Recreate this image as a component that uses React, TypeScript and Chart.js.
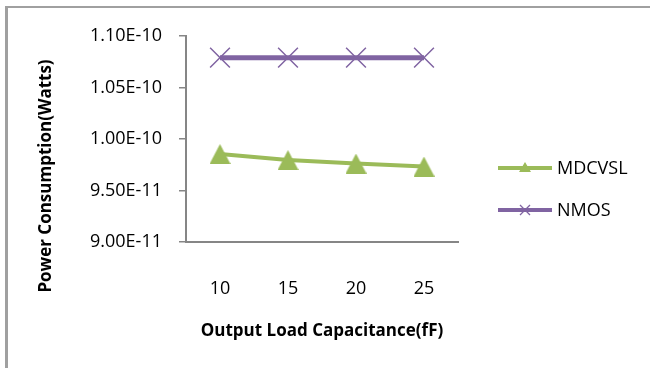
import React, { useEffect, useRef } from 'react';
import { Chart, registerables } from 'chart.js';

Chart.register(...registerables);

const categories = ['10', '15', '20', '25'];
const seriesNames = ['MDCVSL', 'NMOS'];
const mdcvslValues = [9.854e-11, 9.795e-11, 9.762e-11, 9.733e-11];
const nmosValues = [1.079e-10, 1.079e-10, 1.079e-10, 1.079e-10];
const yTickValues = [9.0e-11, 9.5e-11, 1.0e-10, 1.05e-10, 1.1e-10];
const xTitle = 'Output Load Capacitance(fF)';
const yTitle = 'Power Consumption(Watts)';

const GREEN = '#9BBB59';
const PURPLE = '#8064A2';
const AXIS = '#868686';
const FONT = '"Open Sans", "Noto Sans", sans-serif';

function makeTriangle(w: number, h: number, color: string): HTMLCanvasElement {
  const c = document.createElement('canvas');
  c.width = w;
  c.height = h;
  const g = c.getContext('2d')!;
  g.fillStyle = color;
  g.beginPath();
  g.moveTo(w / 2, 0);
  g.lineTo(w, h);
  g.lineTo(0, h);
  g.closePath();
  g.fill();
  return c;
}

const titlesPlugin = {
  id: 'axisTitles',
  afterDraw(chart: any) {
    const { ctx, chartArea } = chart;
    ctx.save();
    ctx.fillStyle = '#000';
    ctx.font = `bold 17px ${FONT}`;
    ctx.textAlign = 'center';
    ctx.textBaseline = 'middle';
    ctx.fillText(xTitle, (chartArea.left + chartArea.right) / 2, chartArea.bottom + 89);
    ctx.translate(46, 176);
    ctx.rotate(-Math.PI / 2);
    ctx.fillText(yTitle, 0, 0);
    ctx.restore();
  },
};

const legendPlugin = {
  id: 'sideLegend',
  afterDraw(chart: any) {
    const { ctx } = chart;
    const x0 = 498;
    const x1 = 552;
    chart.data.datasets.forEach((ds: any, i: number) => {
      const y = 168 + i * 42;
      ctx.save();
      ctx.strokeStyle = ds.borderColor;
      ctx.lineWidth = 4;
      ctx.beginPath();
      ctx.moveTo(x0, y);
      ctx.lineTo(x1, y);
      ctx.stroke();
      const mx = (x0 + x1) / 2;
      if (i === 0) {
        ctx.fillStyle = ds.borderColor;
        ctx.beginPath();
        ctx.moveTo(mx, y - 6);
        ctx.lineTo(mx + 6, y + 4);
        ctx.lineTo(mx - 6, y + 4);
        ctx.closePath();
        ctx.fill();
      } else {
        ctx.lineWidth = 1.3;
        ctx.beginPath();
        ctx.moveTo(mx - 5, y - 5);
        ctx.lineTo(mx + 5, y + 5);
        ctx.moveTo(mx + 5, y - 5);
        ctx.lineTo(mx - 5, y + 5);
        ctx.stroke();
      }
      ctx.fillStyle = '#000';
      ctx.font = `18px ${FONT}`;
      ctx.textAlign = 'left';
      ctx.textBaseline = 'middle';
      ctx.fillText(ds.label, x1 + 5, y + 1);
      ctx.restore();
    });
  },
};

export default function App() {
  const ref = useRef<HTMLCanvasElement | null>(null);

  useEffect(() => {
    if (!ref.current) return;
    const tri = makeTriangle(21, 20, GREEN);
    const chart = new Chart(ref.current, {
      type: 'line',
      data: {
        labels: categories,
        datasets: [
          {
            label: seriesNames[0],
            data: mdcvslValues,
            borderColor: GREEN,
            backgroundColor: GREEN,
            borderWidth: 4,
            pointStyle: tri as any,
            pointRadius: 10,
            pointHoverRadius: 10,
          },
          {
            label: seriesNames[1],
            data: nmosValues,
            borderColor: PURPLE,
            backgroundColor: PURPLE,
            borderWidth: 5,
            pointStyle: 'crossRot',
            pointRadius: 14,
            pointHoverRadius: 14,
            pointBorderWidth: 1.5,
            pointBorderColor: PURPLE,
          },
        ],
      },
      options: {
        responsive: false,
        animation: false,
        devicePixelRatio: 1,
        layout: { padding: { top: 36, right: 192, bottom: 0, left: 0 } },
        plugins: {
          legend: { display: false },
          tooltip: { enabled: false },
          title: { display: false },
        },
        scales: {
          x: {
            type: 'category',
            offset: true,
            grid: { display: false },
            border: { display: true, color: AXIS, width: 2 },
            ticks: {
              color: '#000',
              font: { family: FONT, size: 18 },
              padding: 28,
              maxRotation: 0,
            },
            afterFit: (s: any) => {
              s.height = 368 - 242;
            },
          },
          y: {
            type: 'linear',
            min: yTickValues[0],
            max: yTickValues[yTickValues.length - 1],
            grid: {
              display: true,
              drawOnChartArea: false,
              drawTicks: true,
              tickLength: 7,
              color: AXIS,
              lineWidth: 1.5,
            },
            border: { display: true, color: AXIS, width: 2 },
            afterBuildTicks: (s: any) => {
              s.ticks = yTickValues.map((v) => ({ value: v }));
            },
            ticks: {
              color: '#000',
              font: { family: FONT, size: 18 },
              padding: 17,
              callback: (v: any) => Number(v).toExponential(2).toUpperCase(),
            },
            afterFit: (s: any) => {
              s.width = 186;
            },
          },
        },
      },
      plugins: [titlesPlugin, legendPlugin],
    });
    return () => chart.destroy();
  }, []);

  return (
    <div style={{ position: 'fixed', left: 0, top: 0, width: 650, height: 368, background: '#fff', overflow: 'hidden' }}>
      <div
        style={{
          position: 'absolute',
          left: 5,
          top: 6,
          width: 660,
          height: 400,
          borderLeft: '3px solid #a0a0a0',
          borderTop: '2px solid #a0a0a0',
        }}
      />
      <canvas ref={ref} width={650} height={368} style={{ position: 'absolute', left: 0, top: 0 }} />
    </div>
  );
}
